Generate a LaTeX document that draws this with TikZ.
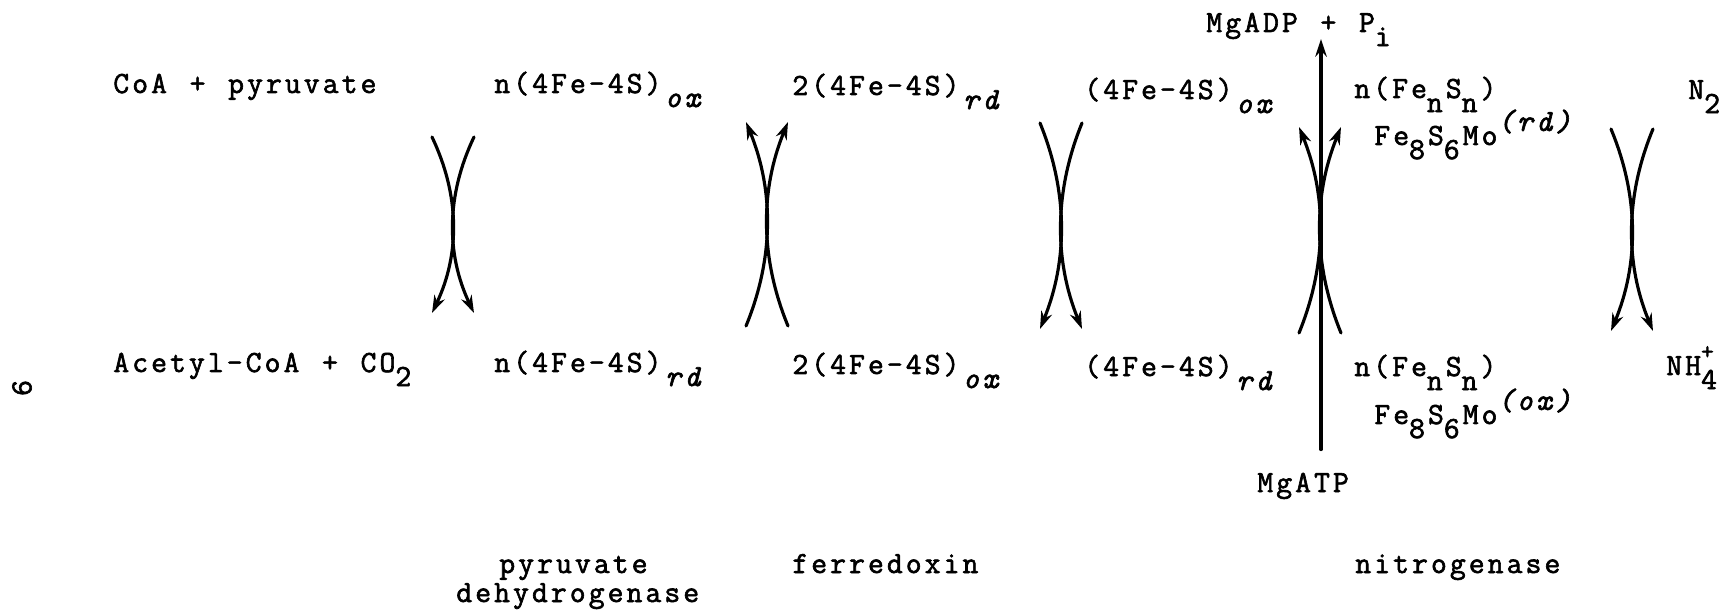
\documentclass[tikz,border=0pt]{standalone}
\usepackage{fontspec}
\newfontfamily\typewriter{Latin Modern Mono}[LetterSpace=10, WordSpace=1.2, FakeBold=2]
\usetikzlibrary{arrows.meta}

% Typewriter text and half-line shifts
\newcommand{\chemfont}{\typewriter\fontsize{17.5}{22}\selectfont}
\newcommand{\dn}[1]{\raisebox{-8pt}{#1}\kern1.75pt}
\newcommand{\up}[1]{\raisebox{8pt}{#1}}
\newcommand{\st}[1]{\hspace{2pt}\dn{\itshape #1}}

\begin{document}
\begin{tikzpicture}[x=0.2mm, y=-0.2mm,
    chem/.style={font=\chemfont, anchor=base west, inner sep=0pt},
    curl/.style={line width=1.8pt, line cap=round, -{Stealth[length=10pt, width=6.5pt]}}]

    \useasboundingbox (0,0) rectangle (1732,613);

    % Oxidised / substrate row
    \node[chem] (coa) at (113,93) {CoA + pyruvate};
    \node[chem] (pdhox) at (494,93) {n(4Fe-4S)\st{ox}};
    \node[chem] (fdrd) at (792,95) {2(4Fe-4S)\st{rd}};
    \node[chem] (nifox) at (1084,99) {(4Fe-4S)\st{ox}};
    \node[chem] (fesrd) at (1354,98) {n(Fe\dn{n}S\dn{n})};
    \node[chem] (morn) at (1374,145) {Fe\dn{8}S\dn{6}Mo\up{\itshape (rd)}};
    \node[chem] (ntwo) at (1688,99) {N\dn{2}};

    % Reduced / product row
    \node[chem] (acoa) at (113,372) {Acetyl-CoA + CO\dn{2}};
    \node[chem] (pdhrd) at (494,372) {n(4Fe-4S)\st{rd}};
    \node[chem] (fdox) at (792,374) {2(4Fe-4S)\st{ox}};
    \node[chem] (nifrd) at (1084,376) {(4Fe-4S)\st{rd}};
    \node[chem] (fesox) at (1354,376) {n(Fe\dn{n}S\dn{n})};
    \node[chem] (moox) at (1374,424) {Fe\dn{8}S\dn{6}Mo\up{\itshape (ox)}};
    \node[chem] (nhfour) at (1666,375) {NH\rlap{\raisebox{9pt}{\fontsize{14}{16}\selectfont +}}\dn{4}};

    % ATP hydrolysis
    \node[chem] (adp) at (1206,32) {MgADP + P\dn{i}};
    \node[chem] (atp) at (1257,492) {MgATP};

    % Enzyme names
    \node[chem] (pdhname) at (499,573) {pyruvate};
    \node[chem] (pdhnametwo) at (456,602) {dehydrogenase};
    \node[chem] (fdname) at (792,573) {ferredoxin};
    \node[chem] (nifname) at (1355,573) {nitrogenase};

    % Page number
    \node[font=\chemfont, rotate=90, inner sep=0pt] (pagenum) at (22,388) {6};

    % Draw the crossed arrow pairs (centre x, start y, end y)
    \foreach \i/\cx/\ya/\yb in {1/453/137/313, 2/767/326/122, 3/1061/123/329, 4/1320/333/127, 5/1632/129/331}{
        \coordinate (l\i a) at (\cx-21,\ya);
        \coordinate (l\i b) at (\cx-21,\yb);
        \coordinate (r\i a) at (\cx+21,\ya);
        \coordinate (r\i b) at (\cx+21,\yb);
        \draw[curl] (l\i a) .. controls (\cx+7,{\ya+(\yb-\ya)/3}) and (\cx+7,{\yb-(\yb-\ya)/3}) .. (l\i b);
        \draw[curl] (r\i a) .. controls (\cx-7,{\ya+(\yb-\ya)/3}) and (\cx-7,{\yb-(\yb-\ya)/3}) .. (r\i b);
    }

    % MgATP to MgADP
    \coordinate (axis) at (1321,0);
    \coordinate (atptop) at ([yshift=13pt]atp.north);
    \coordinate (adpbot) at ([yshift=-4pt]adp.base);
    \draw[curl] (atptop -| axis) -- (adpbot -| axis);

\end{tikzpicture}
\end{document}
